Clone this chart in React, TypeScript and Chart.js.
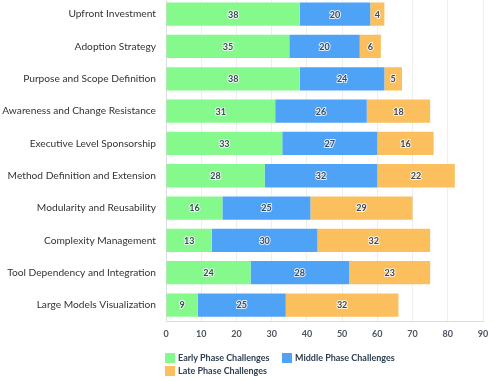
import React, { useEffect, useRef } from "react";
import { Chart, registerables } from "chart.js";

Chart.register(...registerables);

const categories = [
  "Upfront Investment",
  "Adoption Strategy",
  "Purpose and Scope Definition",
  "Awareness and Change Resistance",
  "Executive Level Sponsorship",
  "Method Definition and Extension",
  "Modularity and Reusability",
  "Complexity Management",
  "Tool Dependency and Integration",
  "Large Models Visualization",
];

const earlyPhase = [38, 35, 38, 31, 33, 28, 16, 13, 24, 9];
const middlePhase = [20, 20, 24, 26, 27, 32, 25, 30, 28, 25];
const latePhase = [4, 6, 5, 18, 16, 22, 29, 32, 23, 32];

const seriesNames = ["Early Phase Challenges", "Middle Phase Challenges", "Late Phase Challenges"];
const seriesColors = ["#86f98c", "#4fa3f6", "#fbbf5e"];

const xTicks = [0, 10, 20, 30, 40, 50, 60, 70, 80, 90];

const smallFont = "Lato, sans-serif";

// Writes each segment's value in the middle of its bar
const barValueLabels = {
  id: "barValueLabels",
  afterDatasetsDraw(chart: any) {
    const ctx = chart.ctx;
    ctx.save();
    ctx.font = `bold 9px ${smallFont}`;
    ctx.textAlign = "center";
    ctx.textBaseline = "middle";
    ctx.lineJoin = "round";
    chart.data.datasets.forEach((ds: any, di: number) => {
      const meta = chart.getDatasetMeta(di);
      meta.data.forEach((bar: any, i: number) => {
        const v = ds.data[i];
        const cx = (bar.x + bar.base) / 2;
        const cy = bar.y + 0.5;
        ctx.lineWidth = 2;
        ctx.strokeStyle = "rgba(255,255,255,0.8)";
        ctx.strokeText(String(v), cx, cy);
        ctx.fillStyle = "#3b4a5c";
        ctx.fillText(String(v), cx, cy);
      });
    });
    ctx.restore();
  },
};

function Legend() {
  const item = (k: number, left: number, top: number) => (
    <div
      key={k}
      style={{
        position: "absolute",
        left,
        top,
        display: "flex",
        alignItems: "center",
        whiteSpace: "nowrap",
        font: `bold 9px ${smallFont}`,
        color: "#2c3e50",
        lineHeight: "10px",
      }}
    >
      <span style={{ display: "inline-block", width: 10, height: 10, background: seriesColors[k], marginRight: 3 }} />
      <span>{seriesNames[k]}</span>
    </div>
  );
  return (
    <>
      {item(0, 165, 353)}
      {item(1, 282, 353)}
      {item(2, 165, 366)}
    </>
  );
}

export default function App() {
  const canvasRef = useRef<HTMLCanvasElement | null>(null);

  useEffect(() => {
    if (!canvasRef.current) return;
    const chart = new Chart(canvasRef.current, {
      type: "bar",
      data: {
        labels: categories,
        datasets: [earlyPhase, middlePhase, latePhase].map((d, k) => ({
          label: seriesNames[k],
          data: d,
          backgroundColor: seriesColors[k],
          borderWidth: 0,
          barPercentage: 0.72,
          categoryPercentage: 1,
        })),
      },
      options: {
        indexAxis: "y",
        animation: false,
        responsive: false,
        maintainAspectRatio: false,
        layout: { padding: { left: 2, right: 10, top: 0, bottom: 35 } },
        scales: {
          x: {
            stacked: true,
            min: 0,
            max: 90,
            afterBuildTicks: (axis: any) => {
              axis.ticks = xTicks.map((v) => ({ value: v }));
            },
            afterFit: (axis: any) => {
              axis.paddingLeft = 0;
              axis.paddingRight = 0;
            },
            grid: { color: "#eeeeee", drawTicks: false },
            border: { color: "#dddddd" },
            ticks: {
              padding: 7,
              color: "#4a5560",
              font: { family: smallFont, size: 9, weight: "bold" },
            },
          },
          y: {
            stacked: true,
            afterFit: (axis: any) => {
              axis.width = 164;
              axis.paddingTop = 0;
              axis.paddingBottom = 0;
            },
            grid: { display: false, drawTicks: false },
            border: { color: "#dddddd" },
            ticks: {
              padding: 10,
              color: "#333333",
              font: { family: "Lato, sans-serif", size: 10.2 },
            },
          },
        },
        plugins: {
          legend: { display: false },
          tooltip: { enabled: false },
        },
      },
      plugins: [barValueLabels],
    } as any);
    return () => chart.destroy();
  }, []);

  return (
    <div style={{ position: "fixed", left: 0, top: 0, width: 493, height: 381, background: "#fff", overflow: "hidden" }}>
      <div style={{ position: "absolute", left: 0, top: -2 }}>
        <canvas ref={canvasRef} width={493} height={383} style={{ display: "block" }} />
      </div>
      <Legend />
    </div>
  );
}
